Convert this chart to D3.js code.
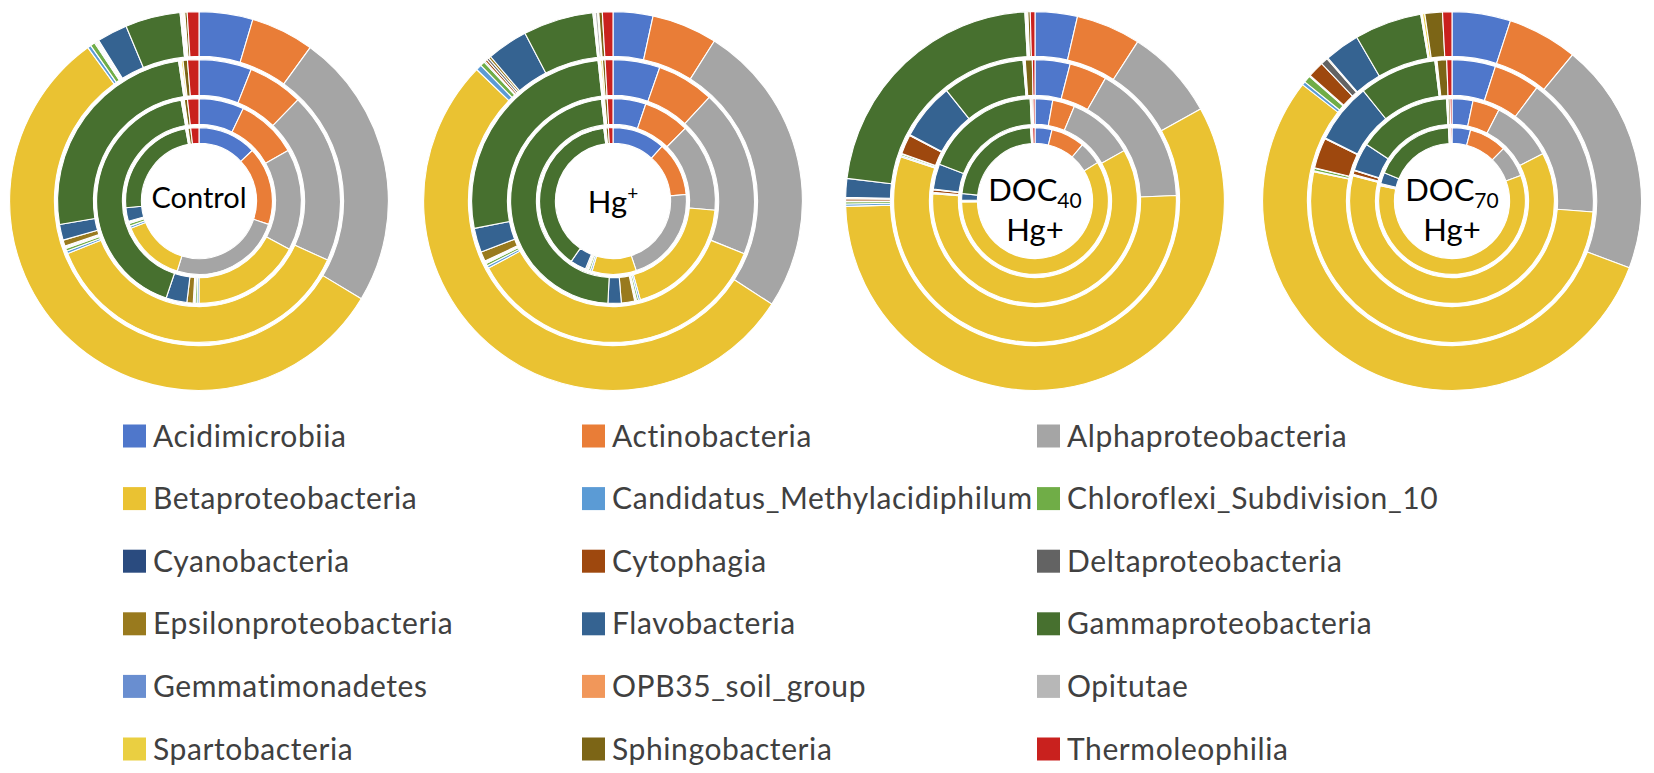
<!DOCTYPE html>
<html>
<head>
<meta charset="utf-8">
<script src="https://cdn.jsdelivr.net/npm/d3@7/dist/d3.min.js"></script>
<style>
  html, body { margin: 0; padding: 0; background: #ffffff; }
  svg { display: block; }
</style>
</head>
<body>
<svg id="chart" width="1654" height="773"></svg>
<script>
// ---------- DATA ----------
const categories = [
  "Acidimicrobiia", "Actinobacteria", "Alphaproteobacteria",
  "Betaproteobacteria", "Candidatus_Methylacidiphilum", "Chloroflexi_Subdivision_10",
  "Cyanobacteria", "Cytophagia", "Deltaproteobacteria",
  "Epsilonproteobacteria", "Flavobacteria", "Gammaproteobacteria",
  "Gemmatimonadetes", "OPB35_soil_group", "Opitutae",
  "Spartobacteria", "Sphingobacteria", "Thermoleophilia"
];

const colors = [
  "#4f77cb", "#e97d37", "#a5a5a5",
  "#eac232", "#5b9bd5", "#70ad47",
  "#2a4b7f", "#9e480e", "#636363",
  "#997a1e", "#356391", "#47702f",
  "#698ed0", "#f1975a", "#b7b7b7",
  "#eacf41", "#7c6516", "#c9211e"
];

const treatments = ["Control", "Hg+", "DOC40 Hg+", "DOC70 Hg+"];

// relative abundance (%) per ring, inner ring -> outer ring
const controlRings = [
  [12.9, 17.2, 24.6, 14.1, 0.5, 0.6, 0.1, 0.1, 0.1, 0.2, 3.0, 23.5, 0.1, 0.1, 0.1, 0.2, 0.6, 1.8],
  [7.1, 9.7, 16.0, 17.2, 0.3, 0.3, 0.1, 0.1, 0.1, 1.0, 3.3, 42.0, 0.1, 0.1, 0.1, 0.2, 0.5, 1.8],
  [6.0, 6.3, 19.5, 37.0, 0.3, 0.3, 0.1, 0.1, 0.1, 0.7, 1.8, 25.3, 0.1, 0.1, 0.1, 0.2, 0.5, 1.3],
  [4.6, 5.4, 23.7, 56.5, 0.3, 0.4, 0.1, 0.1, 0.1, 0.1, 2.6, 4.7, 0.1, 0.1, 0.1, 0.1, 0.2, 1.0]
];
const hgRings = [
  [11.6, 11.9, 21.2, 9.7, 0.4, 0.4, 0.1, 0.2, 0.1, 0.3, 3.5, 38.2, 0.1, 0.1, 0.1, 0.2, 0.5, 1.0],
  [5.2, 7.3, 14.0, 19.3, 0.3, 0.3, 0.1, 0.1, 0.1, 2.1, 2.1, 47.5, 0.1, 0.1, 0.1, 0.2, 0.4, 0.9],
  [5.4, 6.6, 19.3, 36.3, 0.3, 0.3, 0.1, 0.1, 0.1, 1.1, 2.8, 26.6, 0.1, 0.1, 0.1, 0.2, 0.3, 0.9],
  [3.4, 5.6, 25.2, 53.1, 0.5, 0.4, 0.1, 0.2, 0.2, 0.2, 3.5, 6.0, 0.1, 0.1, 0.2, 0.1, 0.3, 0.9]
];
const doc40Rings = [
  [3.75, 7.45, 5.1, 58.7, 0.1, 0.1, 0.05, 0.1, 0.05, 0.05, 1.4, 22.5, 0.05, 0.05, 0.05, 0.1, 0.2, 0.5],
  [2.8, 3.5, 10.6, 59.6, 0.1, 0.1, 0.05, 0.4, 0.05, 0.05, 4.0, 18.5, 0.05, 0.05, 0.05, 0.1, 0.2, 0.3],
  [4.0, 4.3, 16.1, 55.7, 0.15, 0.2, 0.05, 2.2, 0.05, 0.05, 6.5, 9.4, 0.05, 0.05, 0.05, 0.1, 0.8, 0.3],
  [3.6, 5.5, 7.8, 57.5, 0.2, 0.2, 0.05, 0.2, 0.05, 0.05, 1.6, 22.2, 0.05, 0.05, 0.05, 0.1, 0.2, 0.4]
];
const doc70Rings = [
  [4.1, 8.3, 7.0, 59.2, 0.1, 0.1, 0.05, 0.1, 0.05, 0.05, 2.5, 18.0, 0.05, 0.05, 0.05, 0.1, 0.2, 0.3],
  [3.3, 4.3, 9.8, 61.8, 0.1, 0.1, 0.05, 0.6, 0.05, 0.05, 4.4, 14.9, 0.05, 0.05, 0.05, 0.1, 0.3, 0.3],
  [5.0, 5.3, 16.1, 52.4, 0.1, 0.3, 0.05, 3.5, 0.05, 0.05, 6.9, 8.9, 0.05, 0.05, 0.05, 0.1, 1.1, 0.6],
  [5.0, 6.0, 19.8, 54.9, 0.3, 0.6, 0.1, 1.4, 0.6, 0.1, 3.0, 5.75, 0.05, 0.05, 0.05, 0.2, 1.5, 0.8]
];
const allRings = [controlRings, hgRings, doc40Rings, doc70Rings];

// ---------- LAYOUT ----------
const svg = d3.select("#chart");
const centersX = [199, 613, 1035, 1452];
const centerY = 201;
const ringEdges = [56, 75, 104, 143, 191];   // hole, ring1..ring4 outer radii
const ringGap = 1.6;

const pie = d3.pie().sort(null).value(d => d.value);
const color = d3.scaleOrdinal().domain(categories).range(colors);

allRings.forEach((rings, ci) => {
  const g = svg.append("g")
    .attr("class", "donut")
    .attr("transform", `translate(${centersX[ci]},${centerY})`);

  rings.forEach((vals, ri) => {
    const arc = d3.arc()
      .innerRadius(ringEdges[ri] + ringGap)
      .outerRadius(ringEdges[ri + 1] - ringGap);
    const data = vals.map((v, k) => ({ name: categories[k], value: v }));
    g.append("g").attr("class", "ring")
      .selectAll("path")
      .data(pie(data))
      .join("path")
      .attr("d", arc)
      .attr("fill", d => color(d.data.name))
      .attr("stroke", "#ffffff")
      .attr("stroke-width", 1.1)
      .attr("stroke-linejoin", "round");
  });
});

// ---------- CENTER LABELS ----------
const labelFont = "Lato, 'Open Sans', sans-serif";
function centerText(x, y, size) {
  return svg.append("text")
    .attr("x", x).attr("y", y)
    .attr("text-anchor", "middle")
    .attr("font-family", labelFont)
    .attr("font-size", size)
    .attr("fill", "#000000");
}
// Control
centerText(centersX[0], 208, 29).text("Control");
// Hg+
{
  const t = centerText(centersX[1], 213, 31);
  t.append("tspan").text("Hg");
  t.append("tspan").attr("font-size", 19).attr("dy", -13).text("+");
}
// DOC40 / DOC70
[[2, "40"], [3, "70"]].forEach(([ci, sub]) => {
  const t = centerText(centersX[ci], 201, 31);
  t.append("tspan").text("DOC");
  t.append("tspan").attr("font-size", 21).attr("dy", 7).text(sub);
  centerText(centersX[ci], 241, 31).text("Hg+");
});

// ---------- LEGEND ----------
const legendCols = [123, 582, 1037];
const legendRow0 = 436;
const legendRowStep = 62.6;
const legendSquare = 23;

const legend = svg.append("g").attr("class", "legend");
categories.forEach((name, i) => {
  const col = i % 3, row = Math.floor(i / 3);
  const x = legendCols[col];
  const y = legendRow0 + row * legendRowStep;
  const item = legend.append("g").attr("transform", `translate(${x},${y})`);
  item.append("rect")
    .attr("x", 0).attr("y", -legendSquare / 2)
    .attr("width", legendSquare).attr("height", legendSquare)
    .attr("fill", color(name));
  item.append("text")
    .attr("x", 30).attr("y", 10.5)
    .attr("font-family", labelFont)
    .attr("font-size", 30)
    .attr("letter-spacing", 0.6)
    .attr("fill", "#404040")
    .text(name);
});
</script>
</body>
</html>
